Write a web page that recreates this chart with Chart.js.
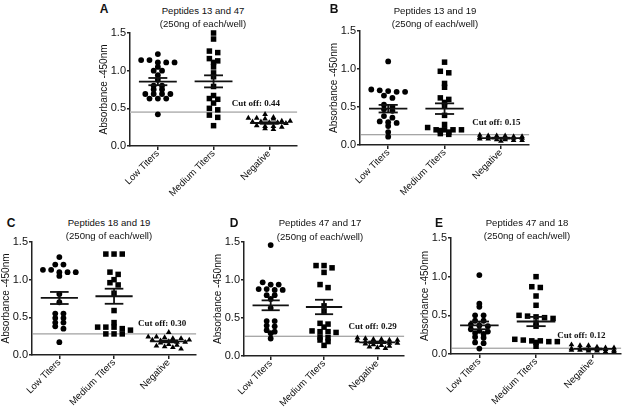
<!DOCTYPE html>
<html>
<head>
<meta charset="utf-8">
<script src="https://cdn.jsdelivr.net/npm/chart.js@4.4.1/dist/chart.umd.min.js"></script>
<style>
    html, body { margin: 0; padding: 0; background: #fff; overflow: hidden; }
    body { width: 625px; height: 407px; position: relative; font-family: "Liberation Sans", Arial, sans-serif; color: #111; }
    canvas { position: absolute; }
    .letter { position: absolute; font-weight: bold; font-size: 12px; transform: translate(-50%, -50%); }
    .title { position: absolute; font-size: 9.6px; white-space: nowrap; transform: translate(-50%, -50%); }
</style>
</head>
<body>
<script>
const categories = ["Low Titers", "Medium Titers", "Negative"];
const yTicks = [0, 0.5, 1.0, 1.5];
const panelLetters = ["A", "B", "C", "D", "E"];
const panelTitles = ["Peptides 13 and 47", "Peptides 13 and 19", "Peptides 18 and 19", "Peptides 47 and 17", "Peptides 47 and 18"];
const subtitle = "(250ng of each/well)";
const cutoffValues = [0.44, 0.15, 0.30, 0.29, 0.12];
const cutoffLines = [0.45, 0.135, 0.28, 0.26, 0.075];

// A
const lowA = [1.22, 1.14, 1.14, 1.11, 1.11, 1.11, 1.05, 1.00, 1.00, 0.94, 0.88, 0.80, 0.80, 0.75, 0.75, 0.69, 0.69, 0.69, 0.69, 0.63, 0.63, 0.63, 0.42];
const mediumA = [1.50, 1.42, 1.26, 1.24, 1.16, 1.13, 1.11, 1.05, 0.97, 0.92, 0.79, 0.67, 0.63, 0.62, 0.57, 0.50, 0.48, 0.41, 0.38, 0.27];
const negativeA = [0.42, 0.38, 0.37, 0.37, 0.36, 0.36, 0.33, 0.33, 0.32, 0.32, 0.31, 0.31, 0.30, 0.27, 0.26, 0.26, 0.25, 0.23, 0.22];
const meanA = [0.855, 0.858, 0.305];
const semA = [0.048, 0.08, 0.01];

// B
const lowB = [1.10, 0.73, 0.72, 0.71, 0.70, 0.70, 0.65, 0.62, 0.53, 0.50, 0.47, 0.45, 0.38, 0.36, 0.31, 0.30, 0.29, 0.25, 0.17, 0.11];
const mediumB = [1.09, 0.97, 0.95, 0.81, 0.76, 0.62, 0.60, 0.56, 0.52, 0.39, 0.27, 0.23, 0.20, 0.20, 0.20, 0.20, 0.19, 0.17, 0.15, 0.14];
const negativeB = [0.13, 0.12, 0.12, 0.12, 0.11, 0.11, 0.10, 0.10, 0.10, 0.09, 0.09, 0.09, 0.08, 0.08, 0.07, 0.07, 0.06, 0.06, 0.05];
const meanB = [0.478, 0.478, 0.09];
const semB = [0.05, 0.07, 0.006];

// C
const lowC = [1.30, 1.20, 1.20, 1.13, 1.13, 1.10, 1.10, 1.10, 1.05, 0.81, 0.70, 0.55, 0.55, 0.49, 0.49, 0.43, 0.43, 0.38, 0.35, 0.17];
const mediumC = [1.34, 1.34, 1.34, 1.10, 1.07, 1.00, 0.96, 0.93, 0.82, 0.59, 0.43, 0.37, 0.37, 0.37, 0.35, 0.33, 0.28, 0.28, 0.28];
const negativeC = [0.30, 0.24, 0.24, 0.23, 0.22, 0.22, 0.20, 0.20, 0.19, 0.18, 0.17, 0.17, 0.16, 0.14, 0.13, 0.12, 0.11, 0.10, 0.08];
const meanC = [0.757, 0.78, 0.18];
const semC = [0.08, 0.10, 0.012];

// D
const lowD = [1.46, 0.97, 0.94, 0.94, 0.88, 0.88, 0.87, 0.87, 0.80, 0.80, 0.75, 0.63, 0.46, 0.46, 0.40, 0.39, 0.34, 0.32, 0.30, 0.23];
const mediumD = [1.19, 1.19, 1.16, 1.10, 0.94, 0.90, 0.66, 0.59, 0.43, 0.42, 0.38, 0.33, 0.32, 0.32, 0.31, 0.25, 0.24, 0.21, 0.19, 0.14];
const negativeD = [0.24, 0.23, 0.22, 0.22, 0.21, 0.21, 0.20, 0.19, 0.18, 0.18, 0.17, 0.17, 0.16, 0.15, 0.14, 0.13, 0.12, 0.11, 0.10];
const meanD = [0.667, 0.645, 0.18];
const semD = [0.065, 0.095, 0.01];

// E
const lowE = [1.02, 0.65, 0.61, 0.50, 0.50, 0.43, 0.43, 0.38, 0.37, 0.36, 0.32, 0.30, 0.29, 0.27, 0.26, 0.22, 0.21, 0.15, 0.14, 0.07];
const mediumE = [1.00, 0.87, 0.86, 0.75, 0.63, 0.50, 0.49, 0.48, 0.47, 0.46, 0.40, 0.36, 0.19, 0.18, 0.17, 0.17, 0.16, 0.16, 0.15, 0.10];
const negativeE = [0.12, 0.11, 0.11, 0.09, 0.08, 0.08, 0.07, 0.07, 0.06, 0.06, 0.06, 0.05, 0.05, 0.05, 0.04, 0.04, 0.03, 0.03];
const meanE = [0.37, 0.42, 0.065];
const semE = [0.05, 0.06, 0.006];

// where each panel sits on the page
const layout = [
    { axisX: 130, top: 33, right: 298, bottom: 146, letter: [104, 9], title: [203, 10, 23], labelAt: [1.76, 0.53], cutColor: "#bdbdbd", cutWidth: 1.6 },
    { axisX: 360, top: 31, right: 530, bottom: 145, letter: [334, 9], title: [435, 10, 23], labelAt: [1.92, 0.257], cutColor: "#8a8a8a", cutWidth: 1 },
    { axisX: 32, top: 242, right: 197, bottom: 355, letter: [11, 223], title: [109, 222, 235], labelAt: [1.88, 0.385], cutColor: "#8a8a8a", cutWidth: 1 },
    { axisX: 244, top: 242, right: 405, bottom: 356, letter: [234, 223], title: [320, 222, 236], labelAt: [1.91, 0.355], cutColor: "#8a8a8a", cutWidth: 1 },
    { axisX: 451, top: 238, right: 622, bottom: 354, letter: [439, 223], title: [527, 222, 235], labelAt: [1.8, 0.213], cutColor: "#8a8a8a", cutWidth: 1 }
];

const YW = 32, XH = 56, PT = 10, PR = 3;
const markers = [
    { pointStyle: "circle", radius: 2.9 },
    { pointStyle: "rect", radius: 3.9 },
    { pointStyle: "triangle", radius: 3.3 }
];

// spread points with close values side by side, like a column scatter
function swarm(values, center) {
    const rows = [];
    [...values].sort((a, b) => b - a).forEach((v) => {
        const row = rows[rows.length - 1];
        if (row && row[0] - v < 0.04 && row.length < 6) row.push(v);
        else rows.push([v]);
    });
    const pts = [];
    rows.forEach((row) => row.forEach((v, j) => {
        pts.push({ x: center + (j - (row.length - 1) / 2) * 0.15, y: v });
    }));
    return pts;
}

const summaryPlugin = {
    id: "summary",
    beforeDatasetsDraw(chart, args, opts) {
        const { ctx, chartArea, scales: { x, y } } = chart;
        const yc = y.getPixelForValue(opts.cutLine);
        ctx.save();
        ctx.strokeStyle = opts.cutColor;
        ctx.lineWidth = opts.cutWidth;
        ctx.beginPath();
        ctx.moveTo(chartArea.left, yc);
        ctx.lineTo(chartArea.right, yc);
        ctx.stroke();
        ctx.font = "bold 9px 'Liberation Serif', 'Times New Roman', serif";
        ctx.fillStyle = "#111";
        ctx.textAlign = "center";
        ctx.textBaseline = "alphabetic";
        ctx.fillText("Cut off: " + opts.cutValue.toFixed(2), x.getPixelForValue(opts.labelAt[0]), y.getPixelForValue(opts.labelAt[1]));
        ctx.restore();
    },
    afterDatasetsDraw(chart, args, opts) {
        const { ctx, scales: { x, y } } = chart;
        ctx.save();
        ctx.strokeStyle = "#111";
        ctx.lineWidth = 1.8;
        opts.means.forEach((m, i) => {
            const s = opts.sems[i];
            const hline = (v, half) => {
                ctx.beginPath();
                ctx.moveTo(x.getPixelForValue(i - half), y.getPixelForValue(v));
                ctx.lineTo(x.getPixelForValue(i + half), y.getPixelForValue(v));
                ctx.stroke();
            };
            hline(m, 0.34);
            hline(m + s, 0.17);
            hline(m - s, 0.17);
            ctx.beginPath();
            ctx.moveTo(x.getPixelForValue(i), y.getPixelForValue(m + s));
            ctx.lineTo(x.getPixelForValue(i), y.getPixelForValue(m - s));
            ctx.stroke();
        });
        ctx.restore();
    }
};

function addText(cls, text, cx, cy) {
    const div = document.createElement("div");
    div.className = cls;
    div.textContent = text;
    div.style.left = cx + "px";
    div.style.top = cy + "px";
    document.body.appendChild(div);
}

function renderPanel(i, groups, means, sems) {
    const L = layout[i];
    const canvas = document.createElement("canvas");
    canvas.width = L.right - L.axisX + YW + PR;
    canvas.height = L.bottom - L.top + PT + XH;
    canvas.style.left = (L.axisX - YW) + "px";
    canvas.style.top = (L.top - PT) + "px";
    document.body.appendChild(canvas);

    addText("letter", panelLetters[i], L.letter[0], L.letter[1]);
    addText("title", panelTitles[i], L.title[0], L.title[1]);
    addText("title", subtitle, L.title[0], L.title[2]);

    const font = { family: "'Liberation Sans', Arial, sans-serif" };

    new Chart(canvas, {
        type: "scatter",
        data: {
            datasets: groups.map((vals, g) => ({
                data: swarm(vals, g),
                pointStyle: markers[g].pointStyle,
                pointRadius: markers[g].radius,
                pointHoverRadius: markers[g].radius,
                backgroundColor: "#000",
                borderColor: "#000",
                borderWidth: 0,
                clip: false
            }))
        },
        options: {
            responsive: false,
            animation: false,
            events: [],
            layout: { padding: { top: PT, right: PR, left: 0, bottom: 0 } },
            plugins: {
                legend: { display: false },
                tooltip: { enabled: false },
                summary: {
                    means, sems,
                    cutLine: cutoffLines[i],
                    cutValue: cutoffValues[i],
                    labelAt: L.labelAt,
                    cutColor: L.cutColor,
                    cutWidth: L.cutWidth
                }
            },
            scales: {
                x: {
                    type: "linear",
                    min: -0.5,
                    max: 2.5,
                    afterBuildTicks: (s) => { s.ticks = categories.map((c, k) => ({ value: k })); },
                    afterFit: (s) => { s.height = XH; },
                    ticks: {
                        autoSkip: false,
                        minRotation: 45,
                        maxRotation: 45,
                        padding: -2,
                        color: "#111",
                        font: { ...font, size: 9.6 },
                        callback: (v) => categories[v]
                    },
                    grid: { drawOnChartArea: false, tickLength: 4, color: "#222", lineWidth: 1.5 },
                    border: { color: "#222", width: 1.5 }
                },
                y: {
                    min: 0,
                    max: 1.5,
                    afterBuildTicks: (s) => { s.ticks = yTicks.map((v) => ({ value: v })); },
                    afterFit: (s) => { s.width = YW; },
                    title: {
                        display: true,
                        text: "Absorbance -450nm",
                        color: "#111",
                        padding: 0,
                        font: { ...font, size: 10 }
                    },
                    ticks: {
                        padding: 1,
                        color: "#111",
                        font: { ...font, size: 11 },
                        callback: (v) => v.toFixed(1)
                    },
                    grid: { drawOnChartArea: false, tickLength: 3, color: "#222", lineWidth: 1.5 },
                    border: { color: "#222", width: 1.5 }
                }
            }
        },
        plugins: [summaryPlugin]
    });
}

renderPanel(0, [lowA, mediumA, negativeA], meanA, semA);
renderPanel(1, [lowB, mediumB, negativeB], meanB, semB);
renderPanel(2, [lowC, mediumC, negativeC], meanC, semC);
renderPanel(3, [lowD, mediumD, negativeD], meanD, semD);
renderPanel(4, [lowE, mediumE, negativeE], meanE, semE);
</script>
</body>
</html>
